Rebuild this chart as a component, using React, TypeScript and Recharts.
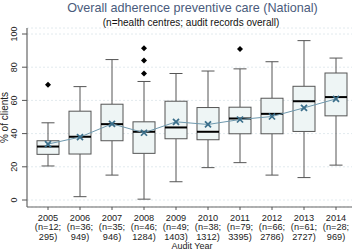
import React from 'react';
import { ComposedChart, Bar, Line, XAxis, YAxis, CartesianGrid } from 'recharts';

const years = ['2005', '2006', '2007', '2008', '2009', '2010', '2011', '2012', '2013', '2014'];
const centres = [12, 36, 35, 46, 49, 38, 79, 66, 61, 28];
const records = [295, 949, 946, 1284, 1403, 1312, 3395, 2786, 2727, 969];
const whiskerLow = [20.5, 2, 15, 0.5, 11, 19.5, 22.5, 15, 13.5, 21];
const q1 = [27.5, 27.7, 35.7, 28.1, 36.9, 36.3, 39.9, 39.9, 41.3, 50.7];
const median = [32.2, 38.1, 45.7, 41.1, 43.7, 41.1, 49.1, 51.9, 59.5, 62];
const q3 = [35.7, 53.5, 57.7, 47.1, 59.5, 55.7, 55.9, 61.3, 68.5, 76.5];
const whiskerHigh = [46.5, 68.3, 84.6, 71.4, 76.2, 77.7, 79, 83.3, 96, 85.5];
const means = [33.7, 37.9, 45.9, 40.5, 47.1, 45.5, 48.5, 50.3, 55.5, 60.9];
const outlierA = [69.5, null, null, 91.4, null, null, 91, null, null, null];
const outlierB = [null, null, null, 84, null, null, null, null, null, null];
const outlierC = [null, null, null, 76.2, null, null, null, null, null, null];
const yTicks = [0, 20, 40, 60, 80, 100];

const data = years.map((year, i) => ({
  year,
  range: [whiskerLow[i], whiskerHigh[i]],
  low: whiskerLow[i],
  q1: q1[i],
  med: median[i],
  q3: q3[i],
  high: whiskerHigh[i],
  mean: means[i],
  o1: outlierA[i],
  o2: outlierB[i],
  o3: outlierC[i],
}));

const FONT = "'Liberation Sans', Arial, sans-serif";
const BOX_STROKE = '#555';
const MEAN_DARK = '#3b6f8b';
const MEAN_LINE = '#6e98ad';

const BoxShape = (props: any) => {
  const { x, y, width, height, payload } = props;
  if (payload == null || x == null || y == null) return <g />;
  const top = Math.min(y, y + height);
  const bot = Math.max(y, y + height);
  const { low, high } = payload;
  const py = (v: number) => top + ((high - v) / (high - low)) * (bot - top);
  const cx = x + width / 2;
  const capHalf = 6.5;
  return (
    <g>
      <line x1={cx} x2={cx} y1={py(high)} y2={py(payload.q3)} stroke={BOX_STROKE} strokeWidth={1} />
      <line x1={cx} x2={cx} y1={py(payload.q1)} y2={py(low)} stroke={BOX_STROKE} strokeWidth={1} />
      <line x1={cx - capHalf} x2={cx + capHalf} y1={py(high)} y2={py(high)} stroke={BOX_STROKE} strokeWidth={1} />
      <line x1={cx - capHalf} x2={cx + capHalf} y1={py(low)} y2={py(low)} stroke={BOX_STROKE} strokeWidth={1} />
      <rect
        x={x}
        y={py(payload.q3)}
        width={width}
        height={py(payload.q1) - py(payload.q3)}
        fill="#eef5f5"
        stroke={BOX_STROKE}
        strokeWidth={1}
      />
      <line x1={x} x2={x + width} y1={py(payload.med)} y2={py(payload.med)} stroke="#000" strokeWidth={2} />
    </g>
  );
};

const XDot = (props: any) => {
  const { cx, cy } = props;
  if (cx == null || cy == null) return <g />;
  const s = 3;
  return (
    <g>
      <line x1={cx - s} y1={cy - s} x2={cx + s} y2={cy + s} stroke={MEAN_DARK} strokeWidth={1.7} />
      <line x1={cx - s} y1={cy + s} x2={cx + s} y2={cy - s} stroke={MEAN_DARK} strokeWidth={1.7} />
    </g>
  );
};

const Diamond = (props: any) => {
  const { cx, cy, value } = props;
  if (cx == null || cy == null || value == null) return <g />;
  const s = 3;
  return <polygon points={`${cx},${cy - s} ${cx + s},${cy} ${cx},${cy + s} ${cx - s},${cy}`} fill="#000" />;
};

const XTick = (props: any) => {
  const { x, payload } = props;
  const i = payload.index;
  const style = { fontFamily: FONT, fontSize: 9.2, fill: '#222' };
  return (
    <g>
      <text x={x} y={221.2} textAnchor="middle" style={style}>{years[i]}</text>
      <text x={x} y={230.4} textAnchor="middle" style={style}>{`(n=${centres[i]};`}</text>
      <text x={x} y={239.6} textAnchor="middle" style={style}>{`${records[i]})`}</text>
    </g>
  );
};

const YTick = (props: any) => {
  const { y, payload } = props;
  const bx = 17.3;
  return (
    <text
      x={bx}
      y={y}
      transform={`rotate(-90 ${bx} ${y})`}
      textAnchor="middle"
      style={{ fontFamily: FONT, fontSize: 9, fill: '#222' }}
    >
      {payload.value}
    </text>
  );
};

export default function App() {
  return (
    <div style={{ position: 'absolute', left: 0, top: 0, width: 358, height: 250, background: '#fff' }}>
      <ComposedChart
        width={358}
        height={250}
        data={data}
        margin={{ top: 28, right: 6, left: 0, bottom: 0 }}
      >
        <CartesianGrid vertical={false} stroke="#e2eaee" strokeDasharray="2 2" />
        <XAxis
          dataKey="year"
          type="category"
          height={43}
          padding={{ left: 5, right: 0 }}
          tickSize={3}
          tickLine={{ stroke: '#555' }}
          axisLine={{ stroke: '#666', strokeWidth: 1.2 }}
          tick={<XTick />}
          interval={0}
        />
        <YAxis
          type="number"
          domain={[0, 100]}
          ticks={yTicks}
          width={27}
          padding={{ top: 6, bottom: 7 }}
          tickSize={5}
          tickLine={{ stroke: '#555' }}
          axisLine={{ stroke: '#666', strokeWidth: 1.2 }}
          tick={<YTick />}
          interval={0}
        />
        <Bar dataKey="range" barSize={22} shape={<BoxShape />} isAnimationActive={false} />
        <Line
          dataKey="mean"
          type="linear"
          stroke={MEAN_LINE}
          strokeWidth={1}
          dot={<XDot />}
          activeDot={false}
          isAnimationActive={false}
        />
        <Line dataKey="o1" stroke="none" dot={<Diamond />} activeDot={false} isAnimationActive={false} />
        <Line dataKey="o2" stroke="none" dot={<Diamond />} activeDot={false} isAnimationActive={false} />
        <Line dataKey="o3" stroke="none" dot={<Diamond />} activeDot={false} isAnimationActive={false} />
      </ComposedChart>
      <svg
        width={358}
        height={250}
        style={{ position: 'absolute', left: 0, top: 0, pointerEvents: 'none' }}
      >
        <text x={192.5} y={12.3} textAnchor="middle" style={{ fontFamily: FONT, fontSize: 12.6, fill: '#4a5b7c' }}>
          Overall adherence preventive care (National)
        </text>
        <text x={191} y={26} textAnchor="middle" style={{ fontFamily: FONT, fontSize: 10, fill: '#111' }}>
          (n=health centres; audit records overall)
        </text>
        <text
          x={8}
          y={117.5}
          transform="rotate(-90 8 117.5)"
          textAnchor="middle"
          style={{ fontFamily: FONT, fontSize: 10, fill: '#222' }}
        >
          % of clients
        </text>
        <text x={192} y={249} textAnchor="middle" style={{ fontFamily: FONT, fontSize: 9, fill: '#222' }}>
          Audit Year
        </text>
      </svg>
    </div>
  );
}
